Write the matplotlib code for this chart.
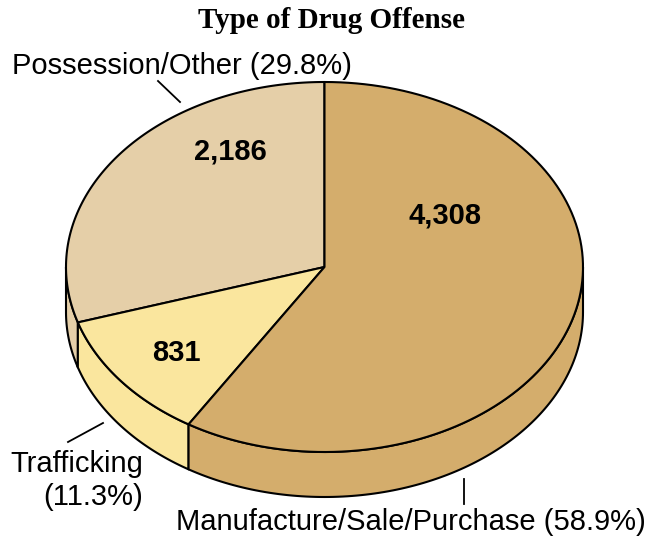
import numpy as np
import matplotlib.pyplot as plt

# offense counts, in drawing order counter-clockwise from 12 o'clock
categories = ["Possession/Other", "Trafficking", "Manufacture/Sale/Purchase"]
counts = [2186, 831, 4308]
pct_labels = ["29.8%", "11.3%", "58.9%"]
colors = ["#E5CFA8", "#FAE69E", "#D4AD6C"]

W, H = 649, 537
cx, cy = 324.5, 267.0   # ellipse centre (pixels)
rx, ry = 258.5, 185.0   # semi-axes of top face
depth = 45.0            # thickness of the pie
lw = 1.5


def pt(t, dy=0.0):
    t = np.radians(t)
    return cx + rx * np.cos(t), cy - ry * np.sin(t) + dy


def arc(t0, t1, dy=0.0, n=120):
    ts = np.linspace(t0, t1, n)
    xs, ys = pt(ts, dy)
    return np.column_stack([xs, ys])


fig = plt.figure(figsize=(W / 100, H / 100), dpi=100)
ax = fig.add_axes([0, 0, 1, 1])
ax.set_xlim(0, W)
ax.set_ylim(H, 0)
ax.axis("off")

total = sum(counts)
spans = np.array(counts) / total * 360
starts = 90 + np.concatenate([[0], np.cumsum(spans)[:-1]])
ends = starts + spans

# side walls: only the front half (180..360 deg) is visible
for s, e, c in zip(starts, ends, colors):
    for lo, hi in [(180, 360), (540, 720)]:
        a0, a1 = max(s, lo), min(e, hi)
        if a1 <= a0:
            continue
        top = arc(a0, a1)
        bot = arc(a1, a0, depth)
        poly = np.vstack([top, bot])
        ax.fill(poly[:, 0], poly[:, 1], facecolor=c, edgecolor="black",
                linewidth=lw, joinstyle="round")

# top face wedges
for s, e, c in zip(starts, ends, colors):
    edge = arc(s, e)
    poly = np.vstack([[cx, cy], edge, [cx, cy]])
    ax.fill(poly[:, 0], poly[:, 1], facecolor=c, edgecolor="black",
            linewidth=lw, joinstyle="round")

# value labels on the wedges
value_pos = [(230, 151), (176, 353), (445, 216)]
for v, (x, y) in zip(counts, value_pos):
    ax.text(x, y, f"{v:,}", ha="center", va="center", fontsize=21,
            fontweight="bold", family="Liberation Sans")

lab = dict(fontsize=21, family="Liberation Sans", color="black")
ax.text(12, 66, f"{categories[0]} ({pct_labels[0]})", ha="left", va="center", **lab)
ax.plot([158, 180], [81, 102], color="black", linewidth=1.3)

ax.text(143, 464, categories[1], ha="right", va="center", **lab)
ax.text(143, 497, f"({pct_labels[1]})", ha="right", va="center", **lab)
ax.plot([68, 103], [442, 423], color="black", linewidth=1.3)

ax.text(646, 522, f"{categories[2]} ({pct_labels[2]})", ha="right", va="center", **lab)
ax.plot([464, 464], [479, 504], color="black", linewidth=1.3)

ax.text(332, 20, "Type of Drug Offense", ha="center", va="center", fontsize=21,
        fontweight="bold", family="Liberation Serif")

fig.savefig("out.png", dpi=100)
